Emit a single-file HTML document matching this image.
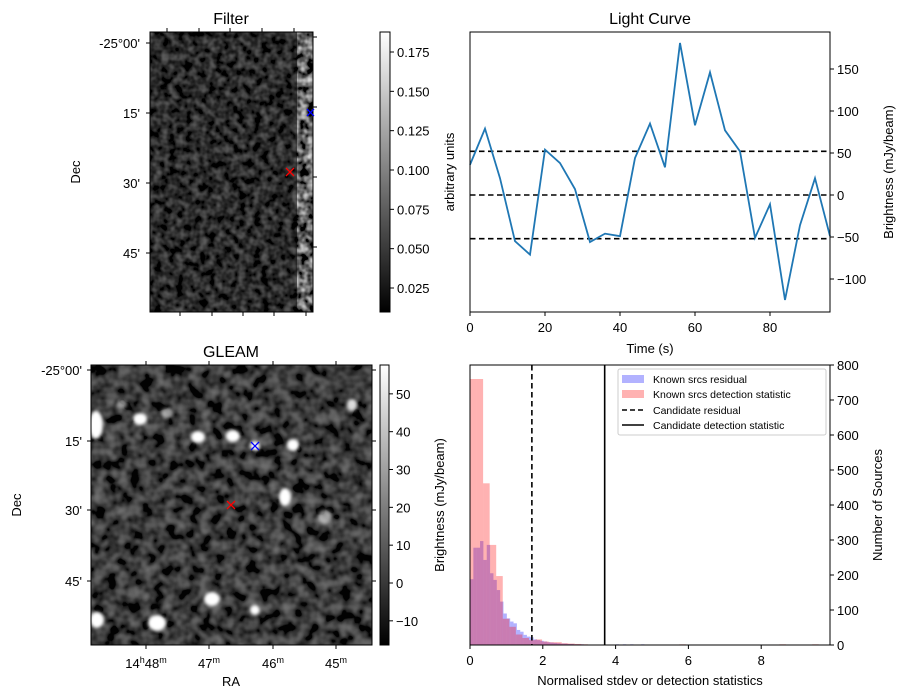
<!DOCTYPE html>
<html><head><meta charset="utf-8"><style>
body{margin:0;background:#fff}
svg{display:block;font-family:"Liberation Sans","DejaVu Sans",sans-serif}
text{fill:#000}
</style></head><body>
<svg id="fig" width="907" height="699" viewBox="0 0 907 699" xmlns="http://www.w3.org/2000/svg">
<defs>
<filter id="noiseA" x="0" y="0" width="100%" height="100%">
<feTurbulence type="fractalNoise" baseFrequency="0.13" numOctaves="2" seed="3"/>
<feColorMatrix type="matrix" values="0 0 0 0 0  0 0 0 0 0  0 0 0 0 0  1 0 0 0 0"/>
<feComponentTransfer><feFuncA type="table" tableValues="0 0 0 0.15 0.45 0.8 1"/></feComponentTransfer>
<feColorMatrix type="matrix" values="0 0 0 1 0  0 0 0 1 0  0 0 0 1 0  0 0 0 0 1"/>
</filter>
<filter id="noiseB" x="0" y="0" width="100%" height="100%">
<feTurbulence type="fractalNoise" baseFrequency="0.085" numOctaves="2" seed="7"/>
<feColorMatrix type="matrix" values="0 0 0 0 0  0 0 0 0 0  0 0 0 0 0  1 0 0 0 0"/>
<feComponentTransfer><feFuncA type="table" tableValues="0 0 0 0.2 0.5 0.8 1"/></feComponentTransfer>
<feColorMatrix type="matrix" values="0 0 0 1 0  0 0 0 1 0  0 0 0 1 0  0 0 0 0 1"/>
</filter>
<filter id="blur"><feGaussianBlur stdDeviation="1.6"/></filter>
<linearGradient id="gray" x1="0" y1="1" x2="0" y2="0"><stop offset="0" stop-color="#000"/><stop offset="1" stop-color="#fff"/></linearGradient>
<clipPath id="clipA"><rect x="150" y="32" width="163" height="280"/></clipPath>
<clipPath id="clipB"><rect x="91" y="365" width="281" height="280"/></clipPath>
</defs>

<!-- Filter image -->
<g clip-path="url(#clipA)">
<rect x="150" y="32" width="163" height="280" fill="#000"/>
<rect x="150" y="32" width="163" height="280" filter="url(#noiseA)" opacity="0.38"/>
<rect x="297" y="32" width="16" height="280" filter="url(#noiseA)" opacity="0.85"/>
</g>
<rect x="150" y="32" width="163" height="280" fill="none" stroke="#000"/>
<g stroke="#000">
<line x1="146" y1="43" x2="150" y2="43"/><line x1="146" y1="113" x2="150" y2="113"/><line x1="146" y1="183" x2="150" y2="183"/><line x1="146" y1="253" x2="150" y2="253"/>
<line x1="313" y1="37" x2="317" y2="37"/><line x1="313" y1="107" x2="317" y2="107"/><line x1="313" y1="177" x2="317" y2="177"/><line x1="313" y1="247" x2="317" y2="247"/>
<line x1="167" y1="28" x2="167" y2="32"/><line x1="199" y1="28" x2="199" y2="32"/><line x1="230" y1="28" x2="230" y2="32"/><line x1="262" y1="28" x2="262" y2="32"/><line x1="294" y1="28" x2="294" y2="32"/>
<line x1="180" y1="312" x2="180" y2="316"/><line x1="212" y1="312" x2="212" y2="316"/><line x1="243" y1="312" x2="243" y2="316"/><line x1="274" y1="312" x2="274" y2="316"/><line x1="306" y1="312" x2="306" y2="316"/>
</g>
<g font-size="13" text-anchor="end">
<text x="140" y="48">-25°00'</text><text x="140" y="118">15'</text><text x="140" y="188">30'</text><text x="140" y="258">45'</text>
</g>
<text x="231" y="24" font-size="16" text-anchor="middle">Filter</text>
<text transform="translate(80,172) rotate(-90)" font-size="13" text-anchor="middle">Dec</text>
<g stroke-width="1.3">
<path d="M286,168 l8,8 M294,168 l-8,8" stroke="red"/>
<path d="M307,109 l7,7 M314,109 l-7,7" stroke="blue"/>
</g>
<rect x="380" y="32" width="10" height="280" fill="url(#gray)" stroke="#000"/>
<g id="cbA" font-size="13"></g>

<!-- GLEAM image -->
<g clip-path="url(#clipB)">
<rect x="91" y="365" width="281" height="280" fill="#050505"/>
<rect x="91" y="365" width="281" height="280" filter="url(#noiseB)" opacity="0.45"/>
<g fill="#fff" filter="url(#blur)">
<ellipse cx="96" cy="425" rx="7" ry="14"/><ellipse cx="140" cy="419" rx="7" ry="6"/><ellipse cx="198" cy="437" rx="7" ry="6"/>
<ellipse cx="233" cy="436" rx="7" ry="6"/><ellipse cx="255" cy="446" rx="5" ry="5"/><ellipse cx="293" cy="445" rx="6" ry="6"/>
<ellipse cx="352" cy="405" rx="5" ry="6" opacity="0.8"/><ellipse cx="285" cy="497" rx="6" ry="9"/><ellipse cx="212" cy="599" rx="8" ry="7"/>
<ellipse cx="255" cy="610" rx="5" ry="5"/><ellipse cx="97" cy="620" rx="7" ry="8"/><ellipse cx="157" cy="623" rx="9" ry="8"/>
<ellipse cx="167" cy="413" rx="6" ry="5" opacity="0.5"/><ellipse cx="325" cy="517" rx="7" ry="7" opacity="0.5"/><ellipse cx="122" cy="404" rx="5" ry="5" opacity="0.5"/>
</g>
</g>
<rect x="91" y="365" width="281" height="280" fill="none" stroke="#000"/>
<g stroke="#000">
<line x1="87" y1="370" x2="91" y2="370"/><line x1="87" y1="441" x2="91" y2="441"/><line x1="87" y1="510" x2="91" y2="510"/><line x1="87" y1="581" x2="91" y2="581"/>
<line x1="372" y1="370" x2="376" y2="370"/><line x1="372" y1="441" x2="376" y2="441"/><line x1="372" y1="510" x2="376" y2="510"/><line x1="372" y1="581" x2="376" y2="581"/>
<line x1="146" y1="361" x2="146" y2="365"/><line x1="209" y1="361" x2="209" y2="365"/><line x1="273" y1="361" x2="273" y2="365"/><line x1="336" y1="361" x2="336" y2="365"/>
<line x1="146" y1="645" x2="146" y2="649"/><line x1="209" y1="645" x2="209" y2="649"/><line x1="273" y1="645" x2="273" y2="649"/><line x1="336" y1="645" x2="336" y2="649"/>
</g>
<g font-size="13" text-anchor="end">
<text x="82" y="375">-25°00'</text><text x="82" y="446">15'</text><text x="82" y="515">30'</text><text x="82" y="586">45'</text>
</g>
<g font-size="13" text-anchor="middle">
<text x="146" y="668">14<tspan font-size="9" dy="-5">h</tspan><tspan dy="5">48</tspan><tspan font-size="9" dy="-5">m</tspan></text>
<text x="209" y="668">47<tspan font-size="9" dy="-5">m</tspan></text>
<text x="273" y="668">46<tspan font-size="9" dy="-5">m</tspan></text>
<text x="336" y="668">45<tspan font-size="9" dy="-5">m</tspan></text>
</g>
<text x="231" y="357" font-size="16" text-anchor="middle">GLEAM</text>
<text x="231" y="686" font-size="13" text-anchor="middle">RA</text>
<text transform="translate(21,505) rotate(-90)" font-size="13" text-anchor="middle">Dec</text>
<g stroke-width="1.3">
<path d="M227,501 l8,8 M235,501 l-8,8" stroke="red"/>
<path d="M251,442 l8,8 M259,442 l-8,8" stroke="blue"/>
</g>
<rect x="380" y="365" width="9" height="280" fill="url(#gray)" stroke="#000"/>
<g id="cbB" font-size="13"></g>
<text transform="translate(444,505) rotate(-90)" font-size="13" text-anchor="middle">Brightness (mJy/beam)</text>

<!-- Light curve -->
<text x="650" y="24" font-size="16" text-anchor="middle">Light Curve</text>
<g id="lc"></g>
<rect x="470" y="32" width="360" height="280" fill="none" stroke="#000"/>
<text x="650" y="353" font-size="13" text-anchor="middle">Time (s)</text>
<text transform="translate(454,172) rotate(-90)" font-size="13" text-anchor="middle">arbitrary units</text>
<text transform="translate(893,172) rotate(-90)" font-size="13" text-anchor="middle">Brightness (mJy/beam)</text>

<!-- Histogram -->
<g id="hist"></g>
<rect x="470" y="365" width="360" height="280" fill="none" stroke="#000"/>
<text x="650" y="685" font-size="13" text-anchor="middle">Normalised stdev or detection statistics</text>
<text transform="translate(882,505) rotate(-90)" font-size="13" text-anchor="middle">Number of Sources</text>
<g font-size="10.5">
<rect x="618" y="369" width="208" height="66" rx="2" fill="#fff" fill-opacity="0.85" stroke="#ccc"/>
<rect x="622" y="375" width="22" height="8" fill="rgba(0,0,255,0.3)"/><text x="653" y="383">Known srcs residual</text>
<rect x="622" y="390" width="22" height="8" fill="rgba(255,0,0,0.3)"/><text x="653" y="398">Known srcs detection statistic</text>
<line x1="622" y1="410" x2="644" y2="410" stroke="#000" stroke-width="1.5" stroke-dasharray="5,3"/><text x="653" y="414">Candidate residual</text>
<line x1="622" y1="425" x2="644" y2="425" stroke="#000" stroke-width="1.5"/><text x="653" y="429">Candidate detection statistic</text>
</g>
</svg>
<script>
// ---- Light curve data ----
const lcTimes = [0,4,8,12,16,20,24,28,32,36,40,44,48,52,56,60,64,68,72,76,80,84,88,92,96];
const lcValues = [36,79,20,-55,-71,54,38,7,-56,-46,-49,44,85,33,181,83,146,77,52,-51,-11,-125,-36,20,-49];
const lcThresholds = [52,0,-52];
const lcXTicks = [0,20,40,60,80];
const lcYTicks = [-100,-50,0,50,100,150];
// ---- Histogram data ----
const blueWidth = 0.092;
const blueCounts = [188,278,278,297,243,286,205,186,157,124,90,76,67,62,43,38,29,24,22,16,14,12,10,8,7,6,5,4,4,3,3,2,2,2,1,1];
const blueTail = [4.0,4.2,4.4,4.7];
const redWidth = 0.18;
const redCounts = [760,760,462,286,197,75,52,30,20,14,16,10,8,8,5,4,3,2];
const redTail = [5.75,8.5,9.4];
const candResidual = 1.7;
const candDetection = 3.7;
const histXTicks = [0,2,4,6,8];
const histYTicks = [0,100,200,300,400,500,600,700,800];
// ---- Colorbar ticks ----
const cbAticks = [0.025,0.05,0.075,0.1,0.125,0.15,0.175];
const cbBticks = [-10,0,10,20,30,40,50];

const NS="http://www.w3.org/2000/svg";
function mk(parent,tag,attrs,text){const e=document.createElementNS(NS,tag);for(const k in attrs)e.setAttribute(k,attrs[k]);if(text!==undefined)e.textContent=text;parent.appendChild(e);return e;}
const fmt=v=>v<0?'\u2212'+Math.abs(v):String(v);

const cbA=document.getElementById('cbA');
const yA=v=>288-(v-0.025)*1573.3;
cbAticks.forEach(v=>{
  const l=mk(cbA,'line',{x1:390,x2:394,y1:yA(v),y2:yA(v),stroke:'#000'});
  
  
  const t=mk(cbA,'text',{x:397,y:yA(v)+5},v.toFixed(3));
  
  
});
const cbB=document.getElementById('cbB');
const yB=v=>583-v*3.783;
cbBticks.forEach(v=>{
  const l=mk(cbB,'line',{x1:389,x2:393,y1:yB(v),y2:yB(v),stroke:'#000'});
  
  
  const t=mk(cbB,'text',{x:396,y:yB(v)+5},fmt(v));
  
  
});

const lc=document.getElementById('lc');
const lx=t=>470+t*3.75, ly=v=>195-v*0.84;
lcThresholds.forEach(v=>{
  const l=mk(lc,'line',{x1:470,x2:830,y1:ly(v),y2:ly(v),stroke:'#000','stroke-width':1.6,'stroke-dasharray':'5.5,3.5'});
  
  
});
const pl=mk(lc,'polyline',{points:lcTimes.map((t,i)=>lx(t)+','+ly(lcValues[i])).join(' '),fill:'none',stroke:'#1f77b4','stroke-width':1.8});


lcXTicks.forEach(t=>{
  mk(lc,'line',{x1:lx(t),x2:lx(t),y1:312,y2:316,stroke:'#000'});
  const tx=mk(lc,'text',{x:lx(t),y:332,'font-size':13,'text-anchor':'middle'},String(t));
  
  
});
lcYTicks.forEach(v=>{
  mk(lc,'line',{x1:830,x2:834,y1:ly(v),y2:ly(v),stroke:'#000'});
  const tx=mk(lc,'text',{x:837,y:ly(v)+5,'font-size':13},fmt(v));
  
  
});

const h=document.getElementById('hist');
const hx=v=>470+v*36.4, hy=c=>645-c*0.35;
blueCounts.forEach((c,i)=>{
  const r=mk(h,'rect',{x:hx(i*blueWidth),y:hy(c),width:blueWidth*36.4,height:c*0.35,fill:'rgba(0,0,255,0.3)'});
  
  
});
blueTail.forEach(v=>{
  const r=mk(h,'rect',{x:hx(v),y:hy(2),width:blueWidth*36.4,height:0.7,fill:'rgba(0,0,255,0.3)'});
  
  
});
redCounts.forEach((c,i)=>{
  const r=mk(h,'rect',{x:hx(i*redWidth),y:hy(c),width:redWidth*36.4,height:c*0.35,fill:'rgba(255,0,0,0.3)'});
  
  
});
redTail.forEach(v=>{
  const r=mk(h,'rect',{x:hx(v),y:hy(2),width:redWidth*36.4,height:0.7,fill:'rgba(255,0,0,0.3)'});
  
  
});
const cr=mk(h,'line',{x1:hx(candResidual),x2:hx(candResidual),y1:365,y2:645,stroke:'#000','stroke-width':1.6,'stroke-dasharray':'5.5,3.5'});


const cd=mk(h,'line',{x1:hx(candDetection),x2:hx(candDetection),y1:365,y2:645,stroke:'#000','stroke-width':1.6});


histXTicks.forEach(v=>{
  mk(h,'line',{x1:hx(v),x2:hx(v),y1:645,y2:649,stroke:'#000'});
  const tx=mk(h,'text',{x:hx(v),y:665,'font-size':13,'text-anchor':'middle'},String(v));
  
  
});
histYTicks.forEach(c=>{
  mk(h,'line',{x1:830,x2:834,y1:hy(c),y2:hy(c),stroke:'#000'});
  const tx=mk(h,'text',{x:837,y:hy(c)+5,'font-size':13},String(c));
  
  
});
</script>
</body></html>
